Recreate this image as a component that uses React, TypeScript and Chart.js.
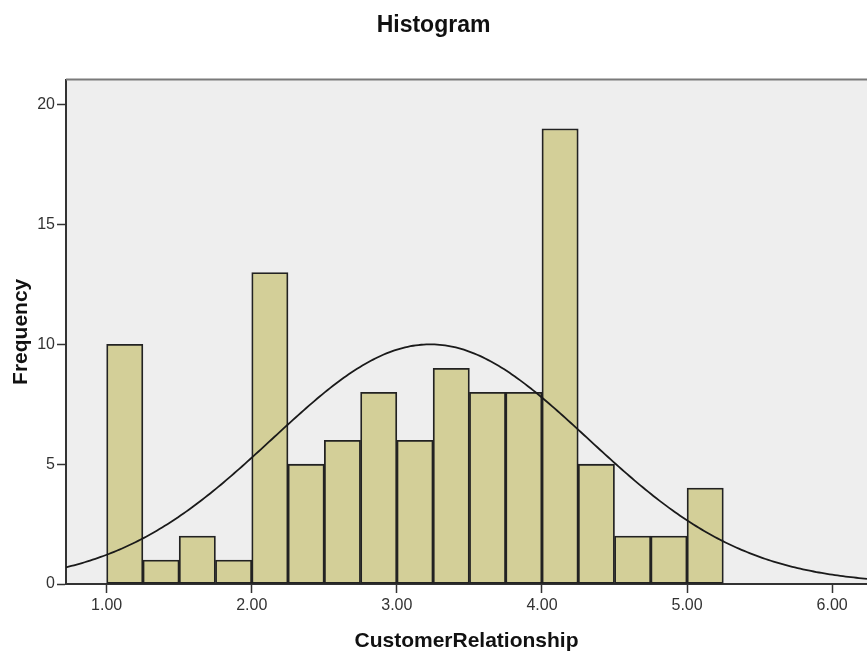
import React, { useEffect, useRef } from 'react';
import { Chart, registerables } from 'chart.js';

Chart.register(...registerables);

// ---- Data ----
const binStarts = [1.0, 1.25, 1.5, 1.75, 2.0, 2.25, 2.5, 2.75, 3.0, 3.25, 3.5, 3.75, 4.0, 4.25, 4.5, 4.75, 5.0];
const binWidth = 0.25;
const frequencies = [10, 1, 2, 1, 13, 5, 6, 8, 6, 9, 8, 8, 19, 5, 2, 2, 4];
const xTickValues = [1, 2, 3, 4, 5, 6];
const yTickValues = [0, 5, 10, 15, 20];
const normalMean = 3.23;
const normalStdDev = 1.087;
const xMin = 0.72;
const xMax = 6.24;
const yMax = 21.05;

const chartTitle = 'Histogram';
const xTitle = 'CustomerRelationship';
const yTitle = 'Frequency';

const FONT = "'Liberation Sans', Arial, sans-serif";

export default function App() {
  const ref = useRef<HTMLCanvasElement | null>(null);

  useEffect(() => {
    if (!ref.current) return;
    const totalN = frequencies.reduce((a, b) => a + b, 0);
    const barData = binStarts.map((s, i) => ({ x: s + binWidth / 2, y: frequencies[i] }));
    const curve: { x: number; y: number }[] = [];
    const steps = 300;
    for (let i = 0; i <= steps; i++) {
      const x = xMin + ((xMax - xMin) * i) / steps;
      const z = (x - normalMean) / normalStdDev;
      const y = (totalN * binWidth) / (normalStdDev * Math.sqrt(2 * Math.PI)) * Math.exp(-0.5 * z * z);
      curve.push({ x, y });
    }

    const bgPlugin = {
      id: 'plotBg',
      beforeDraw(chart: any) {
        const { ctx, chartArea } = chart;
        ctx.save();
        ctx.fillStyle = '#eeeeee';
        ctx.fillRect(chartArea.left, chartArea.top, chartArea.right - chartArea.left, chartArea.bottom - chartArea.top);
        ctx.restore();
      },
      afterDraw(chart: any) {
        const { ctx, chartArea } = chart;
        ctx.save();
        ctx.strokeStyle = '#7a7a7a';
        ctx.lineWidth = 2;
        ctx.beginPath();
        ctx.moveTo(chartArea.left, chartArea.top);
        ctx.lineTo(chartArea.right, chartArea.top);
        ctx.stroke();
        ctx.restore();
      },
    };

    const chart = new Chart(ref.current, {
      type: 'bar',
      data: {
        datasets: [
          {
            type: 'line',
            data: curve,
            borderColor: '#1a1a1a',
            borderWidth: 1.8,
            pointRadius: 0,
            tension: 0,
            fill: false,
            order: 0,
          } as any,
          {
            type: 'bar',
            data: barData,
            backgroundColor: '#d3cf98',
            borderColor: '#222222',
            borderWidth: 1.8,
            borderSkipped: false,
            barPercentage: 1,
            categoryPercentage: 1,
            order: 1,
          } as any,
        ],
      },
      options: {
        responsive: false,
        animation: false,
        layout: { padding: 0 },
        plugins: {
          legend: { display: false },
          tooltip: { enabled: false },
          title: {
            display: true,
            text: chartTitle,
            color: '#111',
            font: { family: FONT, size: 23, weight: 'bold' },
            padding: { top: 12, bottom: 40 },
          },
        },
        scales: {
          x: {
            type: 'linear',
            offset: false,
            min: xMin,
            max: xMax,
            afterBuildTicks: (scale: any) => {
              scale.ticks = xTickValues.map((v) => ({ value: v }));
            },
            afterFit: (scale: any) => {
              scale.height = 71;
            },
            ticks: {
              color: '#333',
              font: { family: FONT, size: 16 },
              padding: 3,
              maxRotation: 0,
              callback: (v: any) => Number(v).toFixed(2),
            },
            grid: {
              offset: false,
              drawOnChartArea: false,
              drawTicks: true,
              tickLength: 9,
              tickColor: '#333',
              tickWidth: 1.5,
            },
            border: { color: '#333', width: 2 },
            title: {
              display: true,
              text: xTitle,
              color: '#111',
              font: { family: FONT, size: 21, weight: 'bold' },
              padding: { top: 4, bottom: 1 },
            },
          },
          y: {
            type: 'linear',
            min: 0,
            max: yMax,
            afterBuildTicks: (scale: any) => {
              scale.ticks = yTickValues.map((v) => ({ value: v }));
            },
            afterFit: (scale: any) => {
              scale.width = 66;
            },
            ticks: {
              color: '#333',
              font: { family: FONT, size: 16 },
              padding: 2,
            },
            grid: {
              drawOnChartArea: false,
              drawTicks: true,
              tickLength: 9,
              tickColor: '#333',
              tickWidth: 1.5,
            },
            border: { color: '#333', width: 2 },
            title: {
              display: true,
              text: yTitle,
              color: '#111',
              font: { family: FONT, size: 21, weight: 'bold' },
              padding: { top: 9, bottom: 4 },
            },
          },
        },
      } as any,
      plugins: [bgPlugin],
    });

    return () => chart.destroy();
  }, []);

  return (
    <div style={{ position: 'fixed', left: 0, top: 0, width: 867, height: 655, background: '#fff' }}>
      <canvas ref={ref} width={867} height={655} style={{ width: 867, height: 655, display: 'block' }} />
    </div>
  );
}
